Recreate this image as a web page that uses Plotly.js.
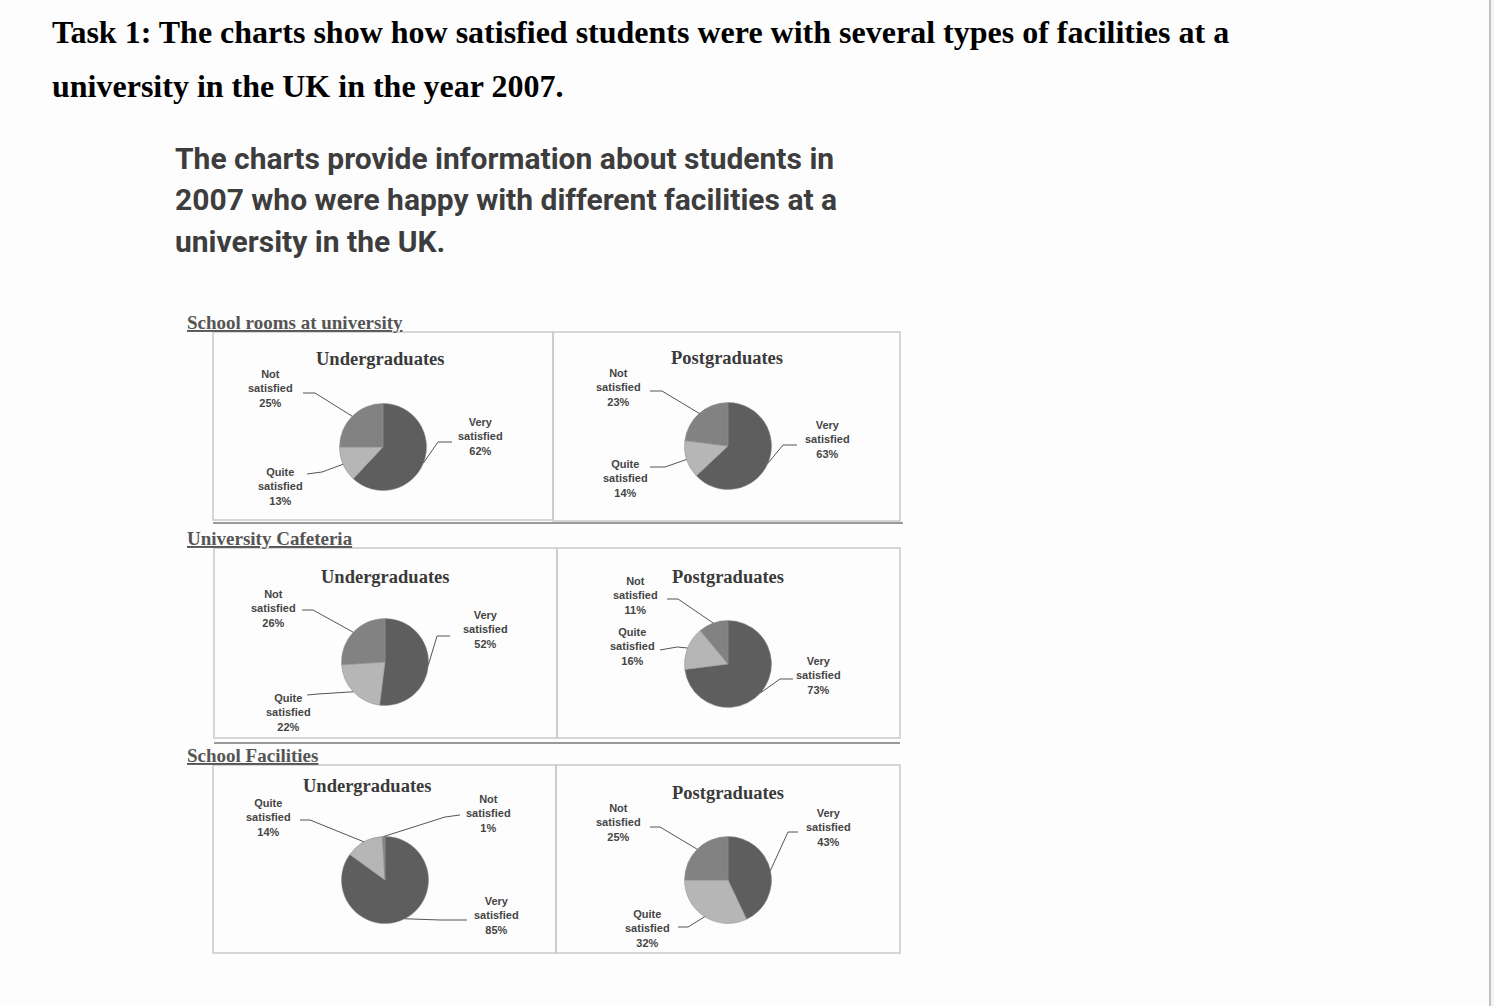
<!DOCTYPE html>
<html>
<head>
<meta charset="utf-8">
<script src="https://cdn.plot.ly/plotly-3.0.1.min.js"></script>
<style>
  html, body { margin: 0; padding: 0; background: #fdfdfd; }
  #chart { width: 1494px; height: 1006px; }
</style>
</head>
<body>
<div id="chart"></div>
<script>
// ---------------- DATA ----------------
const categories = ['Very satisfied', 'Quite satisfied', 'Not satisfied'];
const sections = ['School rooms at university', 'University Cafeteria', 'School Facilities'];
const groups = ['Undergraduates', 'Postgraduates'];

const schoolRoomsUG = [62, 13, 25];
const schoolRoomsPG = [63, 14, 23];
const cafeteriaUG   = [52, 22, 26];
const cafeteriaPG   = [73, 16, 11];
const facilitiesUG  = [85, 14, 1];
const facilitiesPG  = [43, 32, 25];

const mainTitleLines = ['Task 1: The charts show how satisfied students were with several types of facilities at a',
                        'university in the UK in the year 2007.'];
const subTitleLines = ['The charts provide information about students in',
                       '2007 who were happy with different facilities at a',
                       'university in the UK.'];

// ---------------- LAYOUT / STYLE ----------------
const W = 1494, H = 1006;
const px = x => x / W;
const py = y => 1 - y / H;

const sliceColors = { 'Very satisfied': '#5e5e5e', 'Quite satisfied': '#b6b6b6', 'Not satisfied': '#828282' };
const R = 43.5;

// panel geometry: pie centre, title position, label placements [label x,y, elbow x,y, end x,y] per category
const panels = [
  { values: schoolRoomsUG, group: 0, cx: 383, cy: 447, title: [380, 359],
    lab: { 'Very satisfied': [480, 437, 438, 442, 452, 442],
           'Quite satisfied': [280, 486, 322, 472, 307, 474],
           'Not satisfied': [270, 388, 315, 393, 303, 393] } },
  { values: schoolRoomsPG, group: 1, cx: 728, cy: 446, title: [727, 358],
    lab: { 'Very satisfied': [827, 439, 783, 445, 797, 445],
           'Quite satisfied': [625, 479, 665, 467, 650, 467],
           'Not satisfied': [618, 387, 662, 391, 650, 391] } },
  { values: cafeteriaUG, group: 0, cx: 385, cy: 662, title: [385, 577],
    lab: { 'Very satisfied': [485, 629, 437, 636, 450, 636],
           'Quite satisfied': [288, 712, 318, 694, 307, 695],
           'Not satisfied': [273, 608, 313, 610, 302, 610] } },
  { values: cafeteriaPG, group: 1, cx: 728, cy: 664, title: [728, 577],
    lab: { 'Very satisfied': [818, 675, 780, 679, 793, 679],
           'Quite satisfied': [632, 646, 677, 647, 660, 650],
           'Not satisfied': [635, 595, 678, 599, 667, 599] } },
  { values: facilitiesUG, group: 0, cx: 385, cy: 880, title: [367, 786],
    lab: { 'Very satisfied': [497, 915, 440, 920, 467, 920],
           'Quite satisfied': [268, 817, 310, 820, 300, 820],
           'Not satisfied': [488, 813, 445, 817, 460, 815] } },
  { values: facilitiesPG, group: 1, cx: 728, cy: 880, title: [728, 793],
    lab: { 'Very satisfied': [828, 827, 788, 832, 798, 832],
           'Quite satisfied': [647, 928, 688, 927, 678, 927],
           'Not satisfied': [618, 822, 660, 827, 650, 827] } }
];

const sectionTitlePos = [[185, 322], [185, 538], [185, 755]];
const boxes = [
  [213, 332, 553, 520], [553, 332, 900, 521],
  [214, 548, 557, 738], [557, 548, 900, 738],
  [213, 765, 556, 953], [556, 765, 900, 953]
];
const shadowLines = [[213, 523, 903], [214, 743, 900]];

const labelFont = { family: 'Liberation Sans, Arial, sans-serif', size: 11, color: '#454545', weight: 700 };
const serifBold = 'Liberation Serif, Times New Roman, serif';

const traces = [];
const annotations = [];
const shapes = [];

// boxes
boxes.forEach(b => {
  shapes.push({ type: 'rect', xref: 'paper', yref: 'paper',
    x0: px(b[0]), x1: px(b[2]), y0: py(b[1]), y1: py(b[3]),
    line: { color: '#c9c9c9', width: 1.5 }, fillcolor: 'rgba(255,255,255,0)', layer: 'below' });
});
shadowLines.forEach(l => {
  shapes.push({ type: 'line', xref: 'paper', yref: 'paper',
    x0: px(l[0]), x1: px(l[2]), y0: py(l[1]), y1: py(l[1]),
    line: { color: '#9a9a9a', width: 2 } });
});
// right page edge
shapes.push({ type: 'rect', xref: 'paper', yref: 'paper', x0: px(1491), x1: 1, y0: 0, y1: 1,
  line: { width: 0 }, fillcolor: '#f4f4f4' });
shapes.push({ type: 'line', xref: 'paper', yref: 'paper', x0: px(1490), x1: px(1490), y0: 0, y1: 1,
  line: { color: '#c2c2c2', width: 2 } });

// pies
panels.forEach(p => {
  traces.push({
    type: 'pie',
    labels: categories,
    values: p.values,
    sort: false,
    direction: 'clockwise',
    rotation: 0,
    textinfo: 'none',
    hoverinfo: 'label+percent',
    showlegend: false,
    marker: { colors: categories.map(c => sliceColors[c]), line: { color: '#8c8c8c', width: 0.5 } },
    domain: { x: [px(p.cx - R), px(p.cx + R)], y: [py(p.cy + R), py(p.cy - R)] }
  });
  // panel title
  annotations.push({ xref: 'paper', yref: 'paper', x: px(p.title[0]), y: py(p.title[1]),
    text: groups[p.group], showarrow: false, xanchor: 'center', yanchor: 'middle',
    font: { family: serifBold, size: 18.5, color: '#3a3a3a', weight: 700 } });
  // labels + leader lines (tips computed from slice mid-angles)
  const total = p.values.reduce((a, b) => a + b, 0);
  let cum = 0;
  categories.forEach((c, i) => {
    const v = p.values[i];
    const theta = 2 * Math.PI * (cum + v / 2) / total;
    cum += v;
    const tx = p.cx + R * Math.sin(theta);
    const ty = p.cy - R * Math.cos(theta);
    const L = p.lab[c];
    const words = c.split(' ');
    annotations.push({ xref: 'paper', yref: 'paper', x: px(L[0]), y: py(L[1]),
      text: words[0] + '<br>' + words[1] + '<br>' + v + '%', showarrow: false,
      xanchor: 'center', yanchor: 'middle', align: 'center', font: labelFont });
    shapes.push({ type: 'path', xref: 'paper', yref: 'paper',
      path: `M ${px(tx)},${py(ty)} L ${px(L[2])},${py(L[3])} L ${px(L[4])},${py(L[5])}`,
      line: { color: '#555555', width: 1 } });
  });
});

// section titles
sections.forEach((s, i) => {
  annotations.push({ xref: 'paper', yref: 'paper', x: px(sectionTitlePos[i][0]), y: py(sectionTitlePos[i][1]),
    text: s, showarrow: false, xanchor: 'left', yanchor: 'middle',
    font: { family: serifBold, size: 19, color: '#555555', weight: 700, lineposition: 'under' } });
});

// main title lines
const mainY = [32, 86];
mainTitleLines.forEach((t, i) => {
  annotations.push({ xref: 'paper', yref: 'paper', x: px(50), y: py(mainY[i]),
    text: t, showarrow: false, xanchor: 'left', yanchor: 'middle',
    font: { family: serifBold, size: 32, color: '#000000', weight: 700 } });
});
// subtitle lines
const subY = [158, 200, 241];
subTitleLines.forEach((t, i) => {
  annotations.push({ xref: 'paper', yref: 'paper', x: px(173), y: py(subY[i]),
    text: t, showarrow: false, xanchor: 'left', yanchor: 'middle',
    font: { family: 'Roboto, Noto Sans, sans-serif', size: 30, color: '#3d3d3d', weight: 700 } });
});

const layout = {
  width: W, height: H,
  margin: { l: 0, r: 0, t: 0, b: 0 },
  paper_bgcolor: '#fdfdfd',
  plot_bgcolor: '#fdfdfd',
  showlegend: false,
  annotations: annotations,
  shapes: shapes
};

Plotly.newPlot('chart', traces, layout, { displayModeBar: false, staticPlot: true });
</script>
</body>
</html>
